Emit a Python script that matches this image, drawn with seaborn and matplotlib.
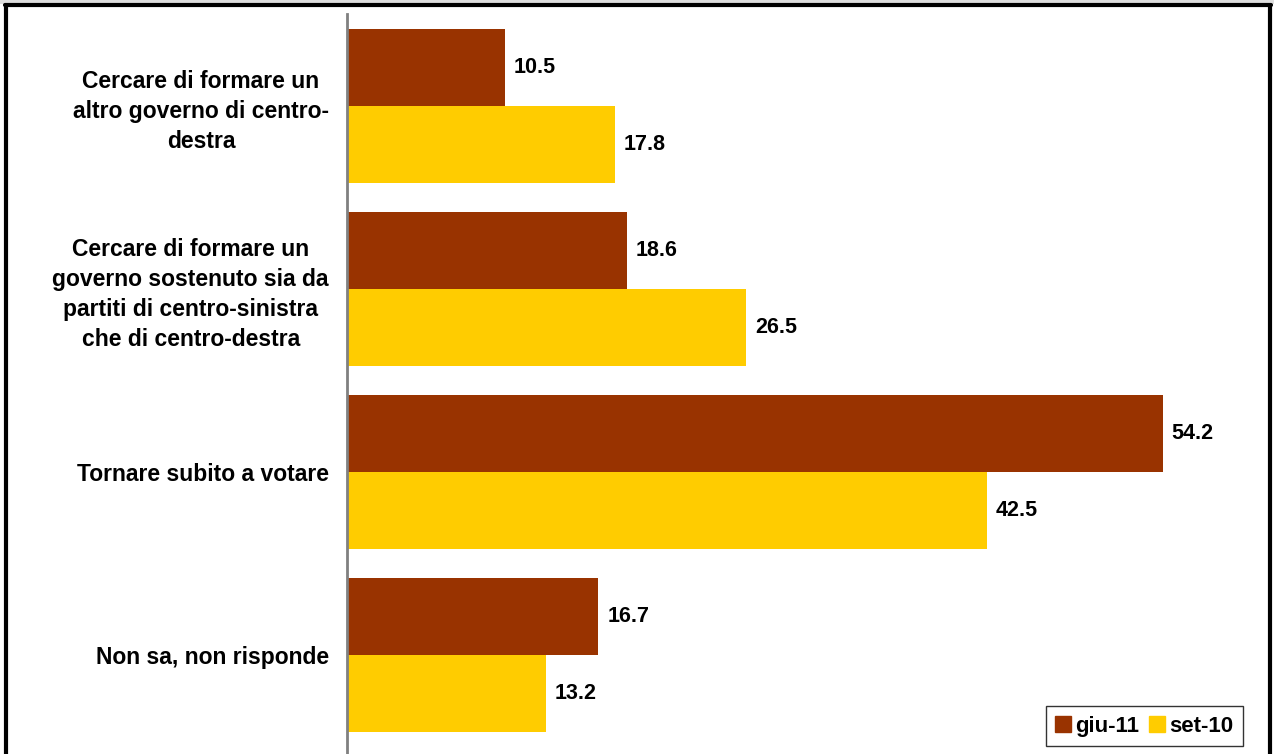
import matplotlib
matplotlib.use("Agg")
import matplotlib.pyplot as plt
import seaborn as sns
import pandas as pd
from matplotlib.patches import Rectangle
from matplotlib.lines import Line2D

categories = [
    "Cercare di formare un\naltro governo di centro-\ndestra",
    "Cercare di formare un\ngoverno sostenuto sia da\npartiti di centro-sinistra\nche di centro-destra",
    "Tornare subito a votare",
    "Non sa, non risponde",
]
series_names = ["giu-11", "set-10"]
giu_11 = [10.5, 18.6, 54.2, 16.7]
set_10 = [17.8, 26.5, 42.5, 13.2]
colors = ["#993300", "#FFCC00"]

df = pd.DataFrame({
    "cat": categories * 2,
    "val": giu_11 + set_10,
    "serie": [series_names[0]] * 4 + [series_names[1]] * 4,
})

sns.set_style("white")
plt.rcParams["font.family"] = ["Liberation Sans", "DejaVu Sans"]
plt.rcParams["font.weight"] = "bold"
plt.rcParams["text.color"] = "black"
plt.rcParams["ytick.color"] = "black"
plt.rcParams["ytick.labelcolor"] = "black"

fig = plt.figure(figsize=(12.74, 7.54), dpi=100)
W, H = 1274, 754
ax = fig.add_axes([347 / W, 0, 903 / W, (754 - 14) / H])

sns.barplot(data=df, y="cat", x="val", hue="serie", order=categories,
            hue_order=series_names, palette=colors, width=0.84,
            orient="h", ax=ax, saturation=1, edgecolor="none", legend=False)

ax.set_xlim(0, 60)
ax.set_ylim(3.54, -0.5)
ax.set_xlabel("")
ax.set_ylabel("")
ax.set_xticks([])
for s in ["top", "right", "bottom"]:
    ax.spines[s].set_visible(False)
ax.spines["left"].set_color("#808080")
ax.spines["left"].set_linewidth(2)
ax.tick_params(axis="y", length=0, pad=13)
for lbl in ax.get_yticklabels():
    lbl.set_fontsize(16.5)
    lbl.set_fontweight("bold")
    lbl.set_color("black")
    lbl.set_multialignment("center")
    lbl.set_linespacing(1.38)
    if "\n" in lbl.get_text():
        lbl.set_va("center_baseline")

for cont in ax.containers:
    ax.bar_label(cont, fmt="%.1f", padding=6.5, fontsize=15.5, fontweight="bold",
                 color="black")

handles = [Line2D([0], [0], marker="s", linestyle="none", markersize=11,
                  markerfacecolor=c, markeredgecolor=c) for c in colors]
leg = ax.legend(handles, series_names, loc="lower right",
                bbox_to_anchor=((1243 - 347) / 903, (754 - 746) / 740),
                borderaxespad=0,
                frameon=True, fancybox=False, ncol=2, handlelength=0.7,
                handletextpad=0.2, columnspacing=0.45, borderpad=0.42,
                prop={"size": 16, "weight": "bold"})
leg.get_frame().set_edgecolor("black")
leg.get_frame().set_linewidth(1)
for t in leg.get_texts():
    t.set_color("black")

# figure border decorations
fig.patches.append(Rectangle((0, 1 - 4 / H), 1, 4 / H, transform=fig.transFigure,
                             facecolor="#DDDDDD", edgecolor="none", zorder=0))
fig.lines.append(Line2D([5 / W, 1271 / W], [1 - 5 / H, 1 - 5 / H],
                        transform=fig.transFigure, color="black", linewidth=3))
fig.lines.append(Line2D([6 / W, 6 / W], [0, 1 - 5 / H],
                        transform=fig.transFigure, color="black", linewidth=3))
fig.lines.append(Line2D([1270 / W, 1270 / W], [0, 1 - 5 / H],
                        transform=fig.transFigure, color="black", linewidth=3))

fig.savefig("out.png", dpi=100)
